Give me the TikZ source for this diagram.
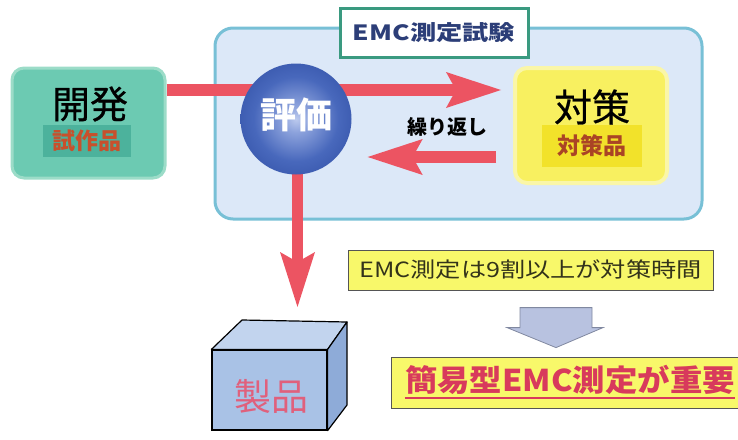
\documentclass[tikz,border=0pt]{standalone}
\usepackage{fontspec}
\setmainfont{Noto Sans CJK JP}
\usetikzlibrary{arrows.meta,calc}

\definecolor{boxblue}{HTML}{DCE8F8}
\definecolor{boxedge}{HTML}{78C0D6}
\definecolor{labeledge}{HTML}{3A9A80}
\definecolor{labeltext}{HTML}{2C3E78}
\definecolor{devfill}{HTML}{6CCAB2}
\definecolor{devedge}{HTML}{9CDCC8}
\definecolor{devinner}{HTML}{4CB29C}
\definecolor{protored}{HTML}{C8502C}
\definecolor{arrowred}{HTML}{EC5462}
\definecolor{cmfill}{HTML}{F8F060}
\definecolor{cmedge}{HTML}{FAF6A8}
\definecolor{cminner}{HTML}{F2E22A}
\definecolor{notefill}{HTML}{F8F86A}
\definecolor{noteedge}{HTML}{555555}
\definecolor{notetext}{HTML}{33331A}
\definecolor{keyred}{HTML}{D83A5C}
\definecolor{lav}{HTML}{B8C2E0}
\definecolor{lavedge}{HTML}{8088A0}
\definecolor{cubefront}{HTML}{A9C2E6}
\definecolor{cubetop}{HTML}{C2D4EE}
\definecolor{cubeside}{HTML}{8EABD8}
\definecolor{cubetext}{HTML}{E0607C}
\definecolor{sphA}{HTML}{BCCAEE}
\definecolor{sphB}{HTML}{8CA2DC}
\definecolor{sphC}{HTML}{4868BC}
\definecolor{sphD}{HTML}{2C4AA0}
\definecolor{sphE}{HTML}{1B3482}

\pgfdeclareradialshading{bluesphere}{\pgfpoint{0bp}{0bp}}{%
  color(0bp)=(sphA);
  color(6bp)=(sphB);
  color(19bp)=(sphC);
  color(36bp)=(sphD);
  color(50bp)=(sphE)}

\newcommand{\fs}[1]{\fontsize{#1}{#1}\selectfont}
\newcommand{\medium}{\addfontfeature{FakeBold=0.6}}

\tikzset{
  redarrow/.style={draw=arrowred, line width=12pt,
    -{Stealth[length=55pt,width=36pt,inset=10pt,line width=0pt]}},
  plainbox/.style={rectangle, inner sep=0pt},
  notebox/.style={plainbox, draw=noteedge, line width=0.8pt, fill=notefill},
}

\begin{document}
\begin{tikzpicture}[x=1pt,y=-1pt]
\useasboundingbox (0,0) rectangle (738,439);

% test area
\node[plainbox, draw=boxedge, line width=3pt, fill=boxblue, rounded corners=18pt,
      minimum width=487pt, minimum height=191pt] (emc) at (458.5,123.5) {};
\node[plainbox, draw=labeledge, line width=3pt, fill=white,
      minimum width=188pt, minimum height=49pt,
      font=\bfseries\fs{21}, text=labeltext] (emclabel) at (434,32.5)
      {\scalebox{1.25}[1]{EMC測定試験}};

% development
\node[plainbox, draw=devedge, line width=3pt, fill=devfill, rounded corners=12pt,
      minimum width=153pt, minimum height=110pt] (kaihatsu) at (88.5,123) {};
\node[plainbox, fill=devinner, minimum width=88pt, minimum height=32pt]
      (proto) at (87,141) {};
\node[font=\fs{38}\medium] (kaihatsutext) at (90,104) {開発};
\node[font=\bfseries\fs{23}, text=protored] (prototext) at (proto) {試作品};

% countermeasure
\node[plainbox, draw=cmedge, line width=4pt, fill=cmfill, rounded corners=12pt,
      minimum width=152pt, minimum height=115pt] (taisaku) at (591,125.5) {};
\node[plainbox, fill=cminner, minimum width=100pt, minimum height=42pt]
      (cmitem) at (592,146) {};
\node[font=\fs{38}\medium] (taisakutext) at (592,107) {対策};
\node[font=\bfseries\fs{23}, text=protored!85!black] (cmitemtext) at (cmitem) {対策品};

% arrows around the evaluation
\draw[redarrow] (kaihatsu.east |- 0,90) -- ($(taisaku.west |- 0,90)+(-12,0)$);
\node[font=\bfseries\fs{20}] (repeat) at (447,127) {繰り返し};

% evaluation sphere
\node[circle, minimum size=111pt, inner sep=0pt] (hyoka) at (296,119) {};
\draw[redarrow] ($(taisaku.west |- 0,157)+(-17,0)$) -- ($(hyoka.east |- 0,157)+(16,0)$);
\draw[redarrow, line width=11pt,
      -{Stealth[length=55pt,width=35pt,inset=10pt,line width=0pt]}]
      ($(hyoka.south)+(1.5,-4)$) -- ($(hyoka.south |- 0,307)+(1.5,0)$);
\node[circle, inner sep=0pt, minimum size=111pt, shading=bluesphere] (hyokaface) at (hyoka) {};
\node[font=\bfseries\fs{36}, text=white] (hyokatext) at (296,115) {評価};

% product cube
\node[plainbox, draw=black, line width=1.2pt, fill=cubefront,
      minimum width=115pt, minimum height=80pt] (seihin) at (269.5,390) {};
\draw[black, line width=1.2pt, fill=cubetop, line join=round]
  (seihin.north west) -- (242,320) -- (347,322) -- (seihin.north east) -- cycle;
\draw[black, line width=1.2pt, fill=cubeside, line join=round]
  (seihin.north east) -- (347,322) -- (347,405) -- (seihin.south east) -- cycle;
\node[font=\fs{37}, text=cubetext] (seihintext) at (271,396) {製品};

% notes
\node[notebox, minimum width=365pt, minimum height=40pt,
      font=\fs{21}, text=notetext] (note) at (530.5,270)
      {\scalebox{1.2}[1]{EMC測定は9割以上が対策時間}};
\node[notebox, minimum width=348pt, minimum height=51pt] (key) at (565,382.5) {};
\node[font=\bfseries\fs{30}, text=keyred, inner sep=0pt] (keytext) at (570,380)
      {\scalebox{1.08}[1]{簡易型EMC測定が重要}};
\draw[keyred, line width=2.5pt] ($(keytext.south west)+(0,3)$) -- ($(keytext.south east)+(0,3)$);

% conclusion arrow from the note down to the key message
\draw[lavedge, line width=0.8pt, fill=lav, line join=miter]
  ($(key.north)+(-45,-49)$) -- ($(key.north)+(27,-49)$) -- ($(key.north)+(27,-29)$)
  -- ($(key.north)+(38,-29)$) -- ($(key.north)+(-9,-9)$) -- ($(key.north)+(-58,-29)$)
  -- ($(key.north)+(-45,-29)$) -- cycle;
\end{tikzpicture}
\end{document}
